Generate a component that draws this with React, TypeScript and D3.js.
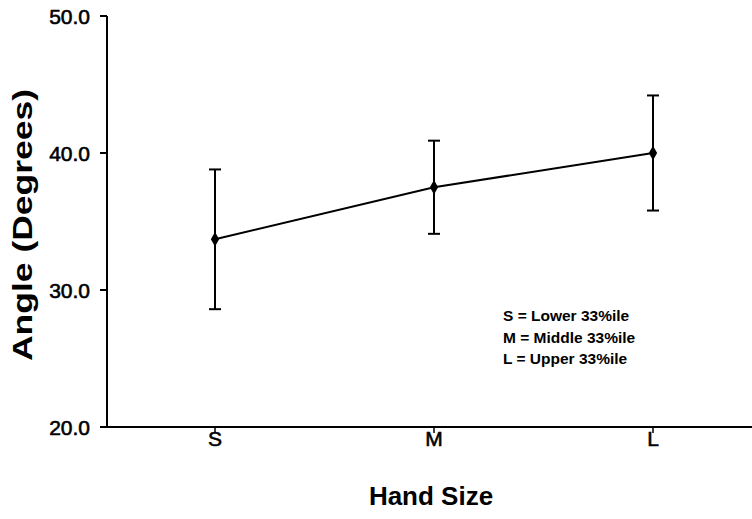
import React from "react";
import * as d3 from "d3";

const categories = ["S", "M", "L"];
const means = [33.7, 37.5, 40.0];
const upper = [38.8, 40.9, 44.2];
const lower = [28.6, 34.1, 35.8];
const yTicks = [20, 30, 40, 50];
const legendLines = ["S = Lower 33%ile", "M = Middle 33%ile", "L = Upper 33%ile"];

const W = 752;
const H = 519;
const FONT = "'Liberation Sans', Arial, Helvetica, sans-serif";

export default function App() {
  const y = d3.scaleLinear().domain([20, 50]).range([427, 16]);
  const x = d3.scalePoint<string>().domain(categories).range([215, 653]);
  const axisX = 107;
  const line = d3
    .line<number>()
    .x((_, i) => x(categories[i]) as number)
    .y((d) => y(d));
  const diamond = d3.symbol().type(d3.symbolDiamond).size(60)();

  return (
    <svg
      width={W}
      height={H}
      style={{ position: "absolute", left: 0, top: 0, background: "#fff" }}
      fontFamily={FONT}
    >
      <rect width={W} height={H} fill="#fff" />
      {/* y axis */}
      <line x1={axisX} x2={axisX} y1={y(50)} y2={y(20)} stroke="#000" strokeWidth={2} />
      {yTicks.map((t) => (
        <g key={t}>
          <line x1={axisX - 7} x2={axisX} y1={y(t)} y2={y(t)} stroke="#000" strokeWidth={2} />
          <text
            x={90}
            y={y(t)}
            dy="0.36em"
            textAnchor="end"
            fontSize={21}
            fill="#000"
            stroke="#000"
            strokeWidth={0.6}
          >
            {t.toFixed(1)}
          </text>
        </g>
      ))}
      {/* x axis */}
      <line x1={axisX - 7} x2={W} y1={y(20)} y2={y(20)} stroke="#000" strokeWidth={2} />
      {categories.map((c) => (
        <g key={c}>
          <line
            x1={x(c)}
            x2={x(c)}
            y1={y(20)}
            y2={y(20) + 6}
            stroke="#000"
            strokeWidth={1.5}
          />
          <text
            x={x(c)}
            y={446}
            textAnchor="middle"
            fontSize={21}
            fill="#000"
            stroke="#000"
            strokeWidth={0.6}
          >
            {c}
          </text>
        </g>
      ))}
      {/* error bars */}
      {categories.map((c, i) => {
        const cx = x(c) as number;
        return (
          <g key={"e" + c} stroke="#000" strokeWidth={2}>
            <line x1={cx} x2={cx} y1={y(upper[i])} y2={y(lower[i])} />
            <line x1={cx - 6} x2={cx + 6} y1={y(upper[i])} y2={y(upper[i])} />
            <line x1={cx - 6} x2={cx + 6} y1={y(lower[i])} y2={y(lower[i])} />
          </g>
        );
      })}
      <path d={line(means) || ""} fill="none" stroke="#000" strokeWidth={2} />
      {means.map((m, i) => (
        <path
          key={"m" + i}
          d={diamond || ""}
          transform={`translate(${x(categories[i])},${y(m)})`}
          fill="#000"
        />
      ))}
      {/* legend */}
      {legendLines.map((l, i) => (
        <text
          key={l}
          x={503}
          y={321 + i * 21.5}
          fontSize={15.5}
          fontWeight="bold"
          fill="#000"
        >
          {l}
        </text>
      ))}
      {/* axis titles */}
      <text
        x={431}
        y={505}
        textAnchor="middle"
        fontSize={26}
        fontWeight="bold"
        fill="#000"
      >
        Hand Size
      </text>
      <text
        transform="translate(32,225) rotate(-90)"
        textAnchor="middle"
        fontSize={27}
        fontWeight="bold"
        fill="#000"
        textLength={272}
        lengthAdjust="spacingAndGlyphs"
      >
        Angle (Degrees)
      </text>
    </svg>
  );
}
